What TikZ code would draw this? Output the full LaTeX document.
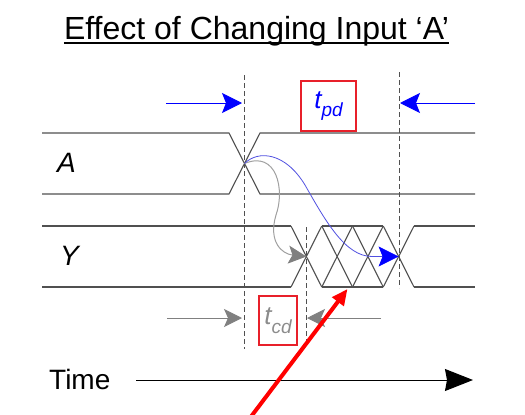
\documentclass[tikz,border=0pt]{standalone}
\usepackage{fontspec}
\setmainfont{Liberation Sans}
\usetikzlibrary{arrows.meta,calc}
\definecolor{sig}{HTML}{505050}
\definecolor{boxred}{HTML}{E8202A}
\definecolor{curveblue}{HTML}{5050E0}
\definecolor{curvegray}{HTML}{A0A0A0}
\definecolor{tipgray}{HTML}{808080}
\definecolor{textgray}{HTML}{8C8C8C}
\begin{document}
\begin{tikzpicture}[x=1pt,y=-1pt,
  signal/.style={draw=sig, line width=1.1pt},
  guide/.style={draw=sig, line width=0.9pt, dash pattern=on 5pt off 3pt},
  bluearrow/.style={draw=blue, line width=1pt, -{Stealth[length=20pt,width=20pt,inset=4pt]}},
  grayarrow/.style={draw=tipgray, line width=1pt, -{Stealth[length=18pt,width=18pt,inset=4pt]}},
  labelbox/.style={draw=boxred, line width=2pt, inner sep=0pt},
  sublbl/.style={inner sep=0pt, anchor=base west, font=\fontsize{28}{28}\selectfont\itshape}
]
\useasboundingbox (0,0) rectangle (525,415);

% title
\node[inner sep=0pt, anchor=base, font=\fontsize{32}{32}\selectfont] (title) at (256.5,39) {Effect of Changing Input `A'};
\draw[line width=2pt] ($(title.base west)+(0,4)$) -- ($(title.base east)+(0,4)$);

% labels
\node[sublbl] (lblA) at (57,172) {A};
\node[sublbl] (lblY) at (60,265) {Y};
\node[inner sep=0pt, anchor=base west, font=\fontsize{28}{28}\selectfont] (time) at (49,389) {Time};

% signal A
\draw[signal] (42,133) -- (229,133) -- (260,194) -- (475,194);
\draw[signal] (42,194) -- (229,194) -- (260,133) -- (475,133);
\coordinate (across) at (244.5,163.5);

% signal Y
\draw[signal] (42,226) -- (291,226);
\draw[signal] (42,287) -- (291,287);
\draw[signal] (322,226) -- (383,226);
\draw[signal] (322,287) -- (383,287);
\draw[signal] (414,226) -- (475,226);
\draw[signal] (414,287) -- (475,287);
\foreach \k in {0,1,2,3} {
  \draw[signal] ({291+30.75*\k},226) -- ({321.75+30.75*\k},287);
  \draw[signal] ({291+30.75*\k},287) -- ({321.75+30.75*\k},226);
}
\coordinate (yfirst) at (306.4,256.5);
\coordinate (ylast) at (398.6,256.5);

% dashed guides
\draw[guide] (244,75) -- (244,349);
\draw[guide] (399,72) -- (399,288);
\draw[guide] (306,227) -- (306,341);

% curves
\draw[draw=curvegray, line width=1pt, -{Stealth[length=18pt,width=18pt,inset=4pt,color=tipgray]}]
  (across) .. controls (277,150) and (285,190) .. (276,215)
  .. controls (268,242) and (282,254) .. (yfirst);
\draw[draw=curveblue, line width=0.8pt, -{Stealth[length=20pt,width=20pt,inset=4pt,color=blue]}]
  (across) .. controls (258,150) and (285,152) .. (305,185)
  .. controls (325,220) and (345,256.5) .. (372,256.5) -- (ylast);

% t_pd arrows and box
\coordinate (pdL0) at (166,103);
\coordinate (pdL1) at (242,103);
\coordinate (pdR0) at (475,103);
\coordinate (pdR1) at (400,103);
\draw[bluearrow] (pdL0) -- (pdL1);
\draw[bluearrow] (pdR0) -- (pdR1);
\node[labelbox, minimum width=55pt, minimum height=50pt, text=blue] (tpd) at (328.5,106)
  {\fontsize{26}{26}\selectfont\itshape t\raisebox{-8pt}{\fontsize{19}{19}\selectfont pd}};

% t_cd arrows and box
\coordinate (cdL0) at (167,318);
\coordinate (cdL1) at (242,318);
\coordinate (cdR0) at (381,318);
\coordinate (cdR1) at (307,318);
\draw[grayarrow] (cdL0) -- (cdL1);
\draw[grayarrow] (cdR0) -- (cdR1);
\node[labelbox, minimum width=38pt, minimum height=49pt, text=textgray] (tcd) at (278,320.5)
  {\fontsize{26}{26}\selectfont\itshape t\raisebox{-8.5pt}{\fontsize{19}{19}\selectfont cd}};

% time axis
\coordinate (t0) at (136,380);
\coordinate (t1) at (473,380);
\draw[line width=1pt, -{Stealth[length=28pt,width=22pt,inset=2pt]}] (t0) -- (t1);

% red pointer
\coordinate (red0) at (250,418);
\coordinate (red1) at (347.5,289);
\draw[draw=red, line width=4pt, -{Triangle[length=16pt,width=14pt]}] (red0) -- (red1);
\end{tikzpicture}
\end{document}
